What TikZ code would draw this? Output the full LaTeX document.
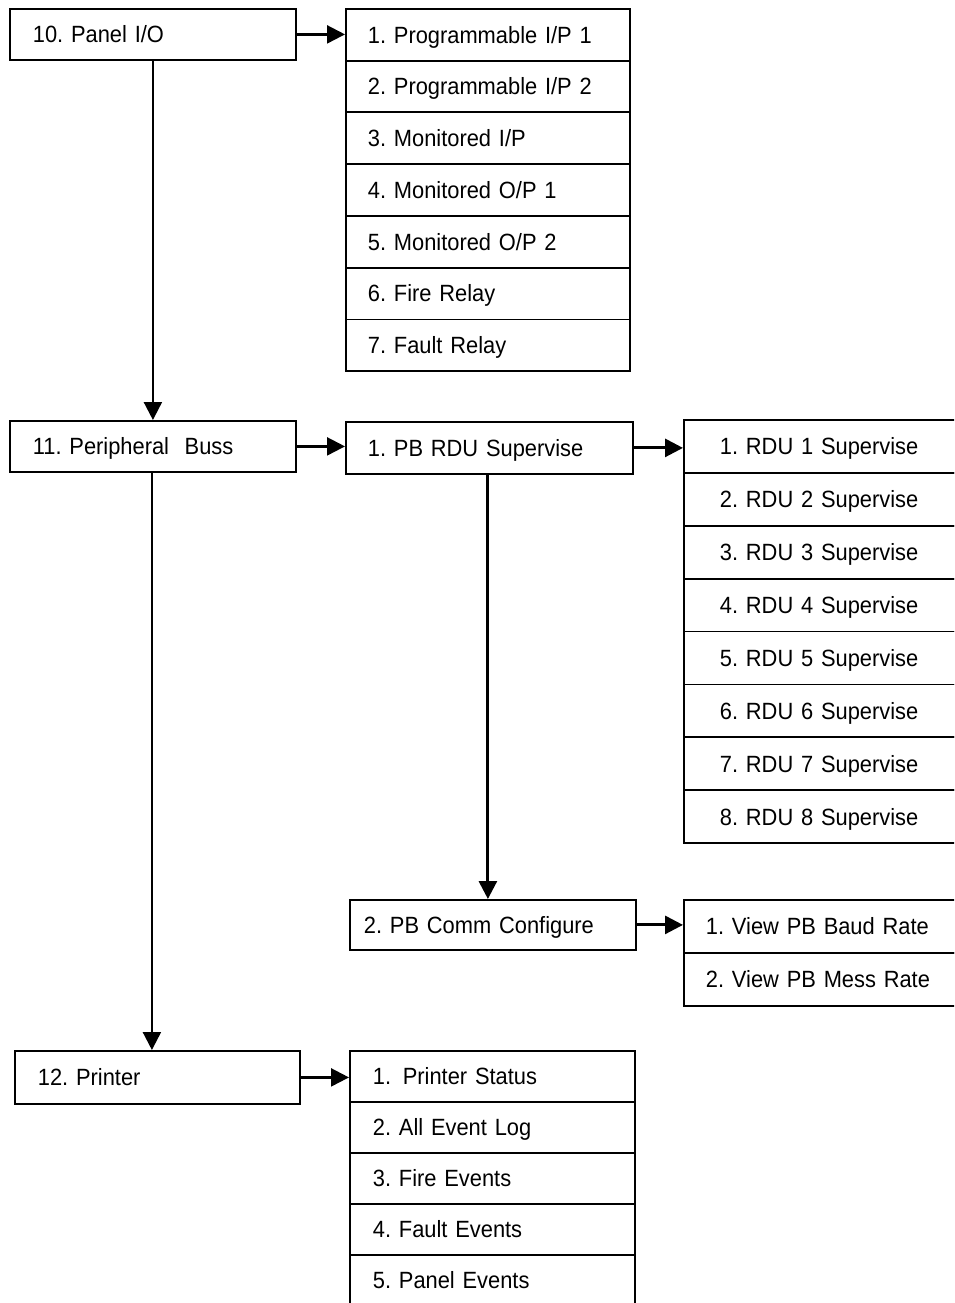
\documentclass[tikz,border=0pt]{standalone}
\usepackage{fontspec}
\setmainfont{Liberation Sans}[FakeStretch=0.93,WordSpace=0.7]
\usetikzlibrary{arrows.meta}
\begin{document}
\begin{tikzpicture}[x=1pt,y=-1pt,
  every node/.style={font=\fontsize{23.5}{27}\selectfont\frenchspacing},
  cell/.style n args={3}{draw, line width=1.8pt, anchor=north west, inner xsep=#1, text width=#2, minimum height=#3, align=left, text height=16.8pt, text depth=0pt, inner ysep=0pt},
  conn/.style={line width=2.3pt, -{Triangle[length=18pt,width=18pt]}},
  thick conn/.style={line width=2.9pt, -{Triangle[length=18pt,width=18pt]}}]
\clip (0,0) rectangle (954,1303);
% main column
\node[cell={23pt}{240pt}{51pt}] (p10) at (9,8) {10. Panel I/O};
\node[cell={23pt}{240pt}{51pt}] (p11) at (9,420) {11. Peripheral\ \ Buss};
\node[cell={23pt}{239pt}{53pt}] (p12) at (14,1050) {12. Printer};
% panel I/O list
\node[cell={22pt}{240pt}{51.75pt}] (a1) at (345,8) {1. Programmable I/P 1};
\node[cell={22pt}{240pt}{51.75pt}] (a2) at (345,59.75) {2. Programmable I/P 2};
\node[cell={22pt}{240pt}{51.75pt}] (a3) at (345,111.5) {3. Monitored I/P};
\node[cell={22pt}{240pt}{51.75pt}] (a4) at (345,163.25) {4. Monitored O/P 1};
\node[cell={22pt}{240pt}{51.75pt}] (a5) at (345,215) {5. Monitored O/P 2};
\node[cell={22pt}{240pt}{51.75pt}] (a6) at (345,266.75) {6. Fire Relay};
\node[cell={22pt}{240pt}{51.75pt}] (a7) at (345,318.5) {7. Fault Relay};
% peripheral buss
\node[cell={22pt}{243pt}{52pt}] (b1) at (345,421) {1. PB RDU Supervise};
\node[cell={14pt}{258pt}{50pt}] (b2) at (349,899) {2. PB Comm Configure};
% RDU list
\node[cell={36pt}{210pt}{52.9pt}] (r1) at (683,419) {1. RDU 1 Supervise};
\node[cell={36pt}{210pt}{52.9pt}] (r2) at (683,471.9) {2. RDU 2 Supervise};
\node[cell={36pt}{210pt}{52.9pt}] (r3) at (683,524.8) {3. RDU 3 Supervise};
\node[cell={36pt}{210pt}{52.9pt}] (r4) at (683,577.7) {4. RDU 4 Supervise};
\node[cell={36pt}{210pt}{52.9pt}] (r5) at (683,630.6) {5. RDU 5 Supervise};
\node[cell={36pt}{210pt}{52.9pt}] (r6) at (683,683.5) {6. RDU 6 Supervise};
\node[cell={36pt}{210pt}{52.9pt}] (r7) at (683,736.4) {7. RDU 7 Supervise};
\node[cell={36pt}{210pt}{52.9pt}] (r8) at (683,789.3) {8. RDU 8 Supervise};
% view list
\node[cell={22pt}{238pt}{53pt}] (v1) at (683,899) {1. View PB Baud Rate};
\node[cell={22pt}{238pt}{53pt}] (v2) at (683,952) {2. View PB Mess Rate};
% printer list
\node[cell={23pt}{239pt}{51pt}] (q1) at (349,1050) {1.\ \,Printer Status};
\node[cell={23pt}{239pt}{51pt}] (q2) at (349,1101) {2. All Event Log};
\node[cell={23pt}{239pt}{51pt}] (q3) at (349,1152) {3. Fire Events};
\node[cell={23pt}{239pt}{51pt}] (q4) at (349,1203) {4. Fault Events};
\node[cell={23pt}{239pt}{51pt}] (q5) at (349,1254) {5. Panel Events};
% connectors
\draw[conn] (p10.east) -- (p10.east -| a1.west);
\draw[conn] (p10.south) -- (p10.south |- p11.north);
\draw[conn] (p11.east) -- (p11.east -| b1.west);
\draw[conn] ([xshift=-1pt]p11.south) -- ([xshift=-1pt]p11.south |- p12.north);
\draw[thick conn] (b1.east) -- (b1.east -| r1.west);
\draw[thick conn] ([xshift=-1.5pt]b1.south) -- ([xshift=-1.5pt]b1.south |- b2.north);
\draw[thick conn] (b2.east) -- (b2.east -| v1.west);
\draw[conn] (p12.east) -- (p12.east -| q1.west);
\end{tikzpicture}
\end{document}
